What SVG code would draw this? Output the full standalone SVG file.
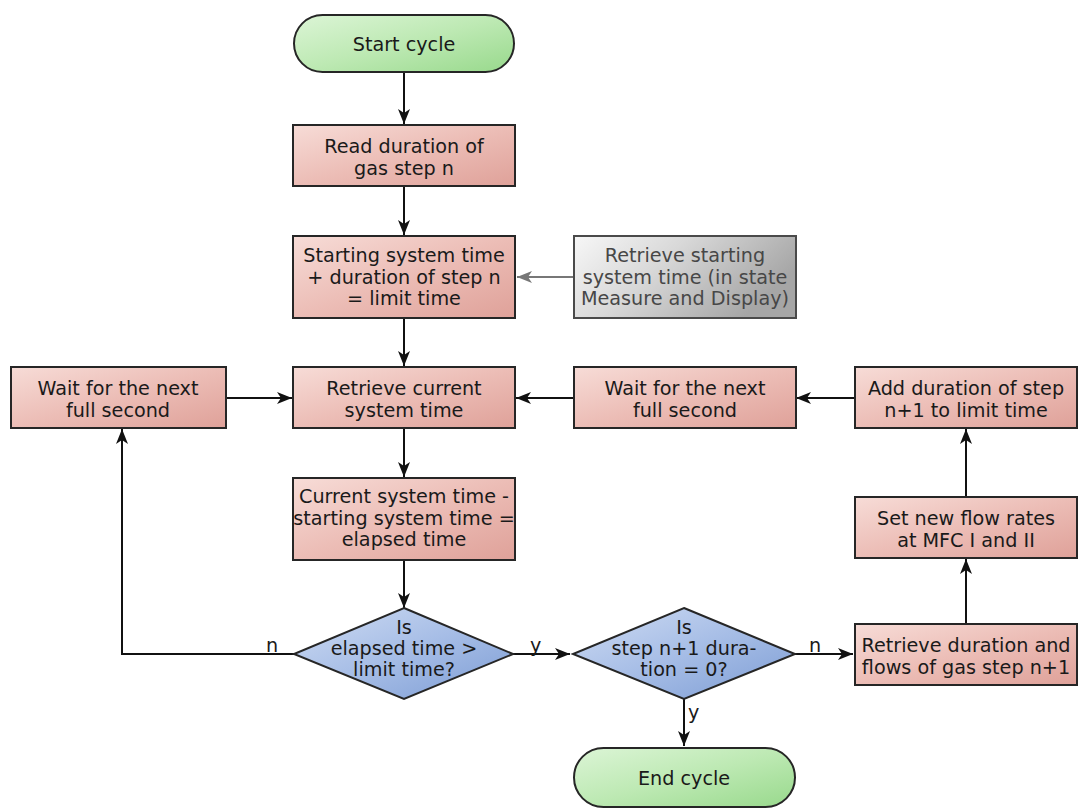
<svg xmlns="http://www.w3.org/2000/svg" width="1079" height="809" viewBox="0 0 1079 809">
  <style>
    .box { fill: url(#gPink); stroke: #262626; stroke-width: 2; }
    .gray { fill: url(#gGray); stroke: #4a4a4a; stroke-width: 2; }
    .term { fill: url(#gGreen); stroke: #262626; stroke-width: 2; }
    .dia { fill: url(#gBlue); stroke: #262626; stroke-width: 2; }
    text { font-family: "DejaVu Sans", Verdana, sans-serif; font-size: 19.2px; fill: #1a1a1a; text-anchor: middle; }
    text.g { fill: #474747; }
    text.lbl { text-anchor: start; }
    .ln { fill: none; stroke: #111; stroke-width: 2; }
    .ln-g { fill: none; stroke: #777; stroke-width: 2; }
  </style>
  <defs>
    <linearGradient id="gPink" x1="0" y1="0" x2="1" y2="1">
      <stop offset="0" stop-color="#f7dcd7"/>
      <stop offset="0.5" stop-color="#ecbdb6"/>
      <stop offset="1" stop-color="#dfa199"/>
    </linearGradient>
    <linearGradient id="gGray" x1="0" y1="0" x2="1" y2="0.4">
      <stop offset="0" stop-color="#f7f7f7"/>
      <stop offset="0.45" stop-color="#d8d8d8"/>
      <stop offset="1" stop-color="#a6a6a6"/>
    </linearGradient>
    <linearGradient id="gGreen" x1="0" y1="0" x2="1" y2="1">
      <stop offset="0" stop-color="#dcf5d6"/>
      <stop offset="0.5" stop-color="#bde9b3"/>
      <stop offset="1" stop-color="#98d98c"/>
    </linearGradient>
    <linearGradient id="gBlue" x1="0" y1="0" x2="1" y2="1">
      <stop offset="0" stop-color="#cfdcf3"/>
      <stop offset="0.5" stop-color="#a6bde6"/>
      <stop offset="1" stop-color="#7c9cd4"/>
    </linearGradient>
    <marker id="ah" viewBox="0 0 15 12" refX="15" refY="6" markerWidth="15" markerHeight="12" markerUnits="userSpaceOnUse" orient="auto">
      <path d="M0,0 L15,6 L0,12 L4,6 z" fill="#111"/>
    </marker>
    <marker id="ahg" viewBox="0 0 15 12" refX="15" refY="6" markerWidth="15" markerHeight="12" markerUnits="userSpaceOnUse" orient="auto">
      <path d="M0,0 L15,6 L0,12 L4,6 z" fill="#777"/>
    </marker>
  </defs>

  <g id="connectors">
    <path class="ln" d="M404,72 V124" marker-end="url(#ah)"/>
    <path class="ln" d="M404,186 V235" marker-end="url(#ah)"/>
    <path class="ln-g" d="M573,277 H517" marker-end="url(#ahg)"/>
    <path class="ln" d="M404,318 V366" marker-end="url(#ah)"/>
    <path class="ln" d="M226,398 H292" marker-end="url(#ah)"/>
    <path class="ln" d="M574,398 H516" marker-end="url(#ah)"/>
    <path class="ln" d="M855,398 H796" marker-end="url(#ah)"/>
    <path class="ln" d="M404,428 V477" marker-end="url(#ah)"/>
    <path class="ln" d="M404,560 V608" marker-end="url(#ah)"/>
    <path class="ln" d="M294,654 H122 V429" marker-end="url(#ah)"/>
    <path class="ln" d="M513,654 H570" marker-end="url(#ah)"/>
    <path class="ln" d="M795,654 H853" marker-end="url(#ah)"/>
    <path class="ln" d="M684,699 V746" marker-end="url(#ah)"/>
    <path class="ln" d="M966,624 V559" marker-end="url(#ah)"/>
    <path class="ln" d="M966,497 V429" marker-end="url(#ah)"/>
    <text class="lbl" x="266" y="652">n</text>
    <text class="lbl" x="530" y="652">y</text>
    <text class="lbl" x="809" y="652">n</text>
    <text class="lbl" x="688" y="719">y</text>
  </g>

  <g id="start">
    <rect class="term" x="294" y="15" width="220" height="57" rx="28.5"/>
    <text x="404" y="51">Start cycle</text>
  </g>

  <g id="read-duration">
    <rect class="box" x="293" y="125" width="222" height="61"/>
    <text x="404" y="153">Read duration of</text>
    <text x="404" y="175">gas step n</text>
  </g>

  <g id="limit-time">
    <rect class="box" x="293" y="236" width="222" height="82"/>
    <text x="404" y="262">Starting system time</text>
    <text x="404" y="284">+ duration of step n</text>
    <text x="404" y="305">= limit time</text>
  </g>

  <g id="start-time">
    <rect class="gray" x="574" y="236" width="222" height="82"/>
    <text class="g" x="685" y="262">Retrieve starting</text>
    <text class="g" x="685" y="284">system time (in state</text>
    <text class="g" x="685" y="305">Measure and Display)</text>
  </g>

  <g id="wait-left">
    <rect class="box" x="11" y="367" width="215" height="61"/>
    <text x="118" y="395">Wait for the next</text>
    <text x="118" y="417">full second</text>
  </g>

  <g id="current-time">
    <rect class="box" x="293" y="367" width="222" height="61"/>
    <text x="404" y="395">Retrieve current</text>
    <text x="404" y="417">system time</text>
  </g>

  <g id="wait-right">
    <rect class="box" x="574" y="367" width="222" height="61"/>
    <text x="685" y="395">Wait for the next</text>
    <text x="685" y="417">full second</text>
  </g>

  <g id="add-duration">
    <rect class="box" x="855" y="367" width="222" height="61"/>
    <text x="966" y="395">Add duration of step</text>
    <text x="966" y="417">n+1 to limit time</text>
  </g>

  <g id="elapsed">
    <rect class="box" x="293" y="478" width="222" height="82"/>
    <text x="404" y="503">Current system time -</text>
    <text x="404" y="525">starting system time =</text>
    <text x="404" y="546">elapsed time</text>
  </g>

  <g id="set-flow">
    <rect class="box" x="855" y="497" width="222" height="61"/>
    <text x="966" y="525">Set new flow rates</text>
    <text x="966" y="547">at MFC I and II</text>
  </g>

  <g id="check-elapsed">
    <polygon class="dia" points="404,608 513,654 404,699 294,654"/>
    <text x="404" y="634">Is</text>
    <text x="404" y="655">elapsed time &gt;</text>
    <text x="404" y="676">limit time?</text>
  </g>

  <g id="check-next">
    <polygon class="dia" points="684,608 795,654 684,699 573,654"/>
    <text x="684" y="634">Is</text>
    <text x="684" y="655">step n+1 dura-</text>
    <text x="684" y="676">tion = 0?</text>
  </g>

  <g id="next-step">
    <rect class="box" x="855" y="624" width="222" height="61"/>
    <text x="966" y="652">Retrieve duration and</text>
    <text x="966" y="674">flows of gas step n+1</text>
  </g>

  <g id="end">
    <rect class="term" x="574" y="748" width="221" height="59" rx="29.5"/>
    <text x="684" y="785">End cycle</text>
  </g>
</svg>
